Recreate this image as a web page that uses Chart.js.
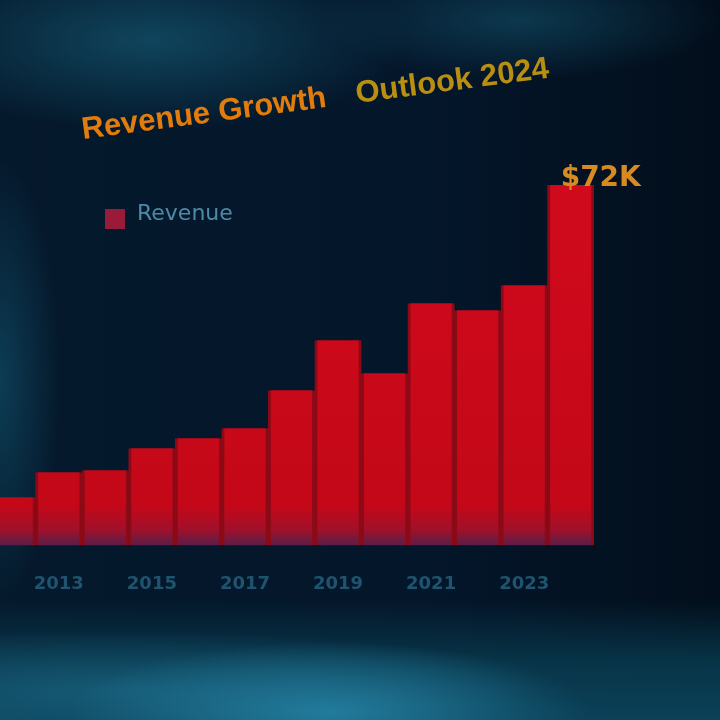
<!DOCTYPE html>
<html>
<head>
<meta charset="utf-8">
<script src="https://cdn.jsdelivr.net/npm/chart.js@4.4.1/dist/chart.umd.min.js"></script>
<style>
  html, body { margin: 0; padding: 0; width: 720px; height: 720px; overflow: hidden; }
  body {
    background:
      radial-gradient(ellipse 260px 70px at 330px 712px, rgba(40,140,175,0.75), rgba(40,140,175,0) 100%),
      radial-gradient(ellipse 420px 60px at 120px 690px, rgba(30,110,140,0.6), rgba(30,110,140,0) 100%),
      linear-gradient(to bottom, rgba(0,0,0,0) 600px, rgba(8,55,75,0.9) 660px, rgba(12,70,95,0.9) 720px),
      radial-gradient(ellipse 260px 90px at 150px 40px, rgba(18,80,105,0.8), rgba(18,80,105,0) 100%),
      radial-gradient(ellipse 200px 60px at 520px 20px, rgba(18,80,105,0.6), rgba(18,80,105,0) 100%),
      radial-gradient(ellipse 60px 220px at 0px 380px, rgba(14,70,95,0.8), rgba(14,70,95,0) 100%),
      linear-gradient(to right, #05192c 0%, #04162a 60%, #020e1b 100%);
  }
  #wrap { position: absolute; left: -11px; top: 0; width: 731px; height: 720px; }
</style>
</head>
<body>
<div id="wrap"><canvas id="c" width="731" height="720"></canvas></div>
<script>
// ---- data ----
const titleMain = "Revenue Growth";
const titleSub = "Outlook 2024";
const seriesLabel = "Revenue";
const categories = ["2012","2013","2014","2015","2016","2017","2018","2019","2020","2021","2022","2023","2024"];
const revenueK = [9.6, 14.6, 15, 19.4, 21.4, 23.4, 31, 41, 34.4, 48.4, 47, 52, 72];
const yMax = 80;

const titleLegendPlugin = {
  id: 'titleLegend',
  afterDraw(chart) {
    const ctx = chart.ctx;
    ctx.save();
    // slanted title
    ctx.translate(94, 139);
    ctx.rotate(-7.5 * Math.PI / 180);
    ctx.font = 'bold 31px "Liberation Sans", Arial, sans-serif';
    ctx.textBaseline = 'alphabetic';
    ctx.fillStyle = '#e27c0c';
    ctx.fillText(titleMain, 0, 0);
    const w = ctx.measureText(titleMain).width + 30;
    ctx.fillStyle = '#b98f12';
    ctx.fillText(titleSub, w, 0);
    ctx.restore();

    // legend
    ctx.save();
    ctx.fillStyle = '#9a1a3a';
    ctx.fillRect(116, 209, 20, 20);
    ctx.font = '22px "DejaVu Sans", sans-serif';
    ctx.fillStyle = '#4d8aa8';
    ctx.textBaseline = 'middle';
    ctx.fillText(seriesLabel, 148, 214);
    ctx.restore();

    // value label on last bar
    const meta = chart.getDatasetMeta(0);
    const last = meta.data[meta.data.length - 1];
    const v = revenueK[revenueK.length - 1];
    ctx.save();
    ctx.font = 'bold 28px "DejaVu Sans", sans-serif';
    ctx.fillStyle = '#d88a22';
    ctx.textAlign = 'center';
    ctx.textBaseline = 'middle';
    ctx.fillText('$' + v + 'K', last.x + 30, last.y - 6);
    ctx.restore();
  }
};

function barFill(context) {
  const area = context.chart.chartArea;
  if (!area) return '#cc0a1c';
  const g = context.chart.ctx.createLinearGradient(0, area.top, 0, area.bottom);
  g.addColorStop(0, '#d20a1e');
  g.addColorStop(0.9, '#c40818');
  g.addColorStop(0.96, '#a0102a');
  g.addColorStop(1, '#5a1e48');
  return g;
}

new Chart(document.getElementById('c'), {
  type: 'bar',
  data: {
    labels: categories,
    datasets: [{
      label: seriesLabel,
      data: revenueK,
      backgroundColor: barFill,
      borderColor: '#8c0a16',
      borderWidth: { left: 3, right: 3, top: 0, bottom: 0 },
      borderSkipped: false,
      barPercentage: 1.0,
      categoryPercentage: 1.0
    }]
  },
  options: {
    responsive: false,
    animation: false,
    layout: { padding: { left: 0, right: 126, top: 145, bottom: 105 } },
    plugins: { legend: { display: false }, title: { display: false }, tooltip: { enabled: false } },
    scales: {
      x: {
        grid: { display: false },
        border: { display: false },
        ticks: {
          autoSkip: false,
          maxRotation: 0,
          padding: 20,
          color: '#1f5470',
          font: { size: 18, family: '"DejaVu Sans", sans-serif', weight: 'bold' },
          callback: function (val, idx) { return idx % 2 === 1 ? this.getLabelForValue(val) : ''; }
        }
      },
      y: {
        display: false,
        min: 0,
        max: yMax
      }
    }
  },
  plugins: [titleLegendPlugin]
});
</script>
</body>
</html>
